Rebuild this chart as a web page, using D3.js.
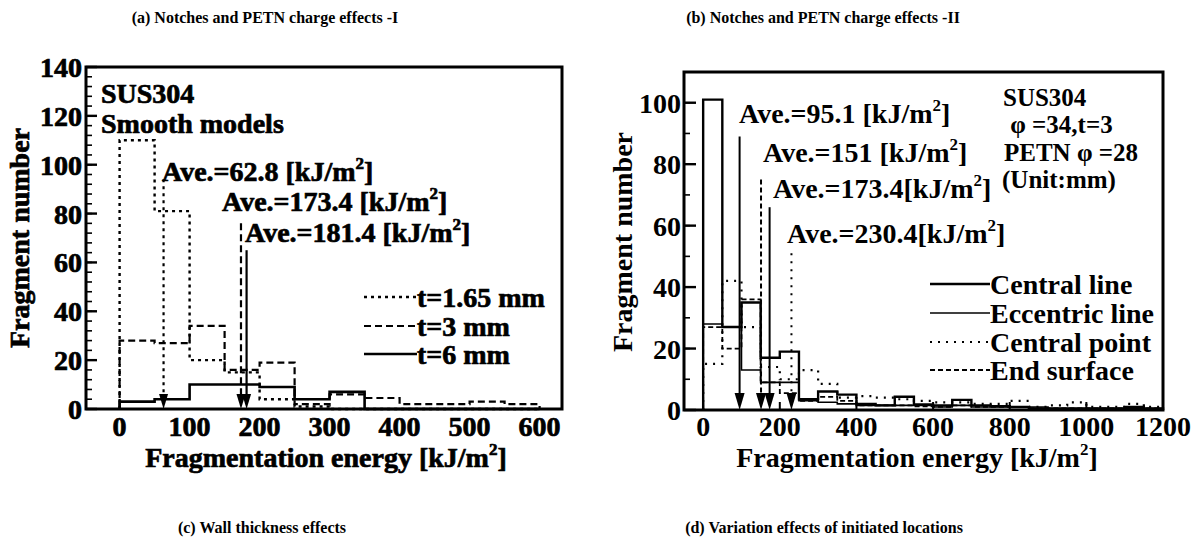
<!DOCTYPE html>
<html><head><meta charset="utf-8">
<script src="https://cdn.jsdelivr.net/npm/d3@7"></script>
<style>
body{margin:0;background:#fff;}
svg{display:block;}
text{font-family:"Liberation Serif","DejaVu Serif","Noto Serif","Times New Roman",Times,serif;font-weight:bold;fill:#000;}
.heavy text{stroke:#000;stroke-width:0.7px;}
</style>
</head><body>
<svg id="c" width="1197" height="545"></svg>
<script>
// ---------- DATA ----------
// Left panel (wall thickness effects)
const leftBinEdges = [0, 50, 100, 150, 200, 250, 300, 350, 400, 450, 500, 550, 600];
const leftNames = ["t=1.65 mm", "t=3 mm", "t=6 mm"];
const leftT165 = [110, 81, 20, 15, 4, 1, 0, 0, 0, 0, 0, 0];
const leftT3   = [28, 27, 34, 16, 19, 2, 6, 4.5, 2, 2, 3, 2];
const leftT6   = [3, 4, 10, 10, 9, 4, 7, 0, 0, 0, 0, 0];
const leftAve  = [62.8, 173.4, 181.4];
const leftAveTop = [94, 76, 65];
const leftAveLabels = ["Ave.=62.8 [kJ/m", "Ave.=173.4 [kJ/m", "Ave.=181.4 [kJ/m"];
const leftYTicks = [0, 20, 40, 60, 80, 100, 120, 140];
const leftXTicks = [0, 100, 200, 300, 400, 500, 600];

// Right panel (initiated locations)
const rightBinEdges = [0, 50, 100, 150, 200, 250, 300, 350, 400, 450, 500, 550, 600, 650, 700, 750, 800, 850, 900, 950, 1000, 1050, 1100, 1150, 1200];
const rightNames = ["Central line", "Eccentric line", "Central point", "End surface"];
const rightCentralLine   = [101, 27, 35, 17, 19, 3.5, 6, 5, 2, 1.5, 4.3, 1.8, 1.5, 3.3, 1.5, 1.2, 1, 0.5, 0.5, 0.5, 0.5, 0.5, 1, 0.5];
const rightEccentricLine = [28, 27, 13, 9, 9, 3, 2.5, 2, 1.5, 1.5, 1.5, 1.5, 1, 1.5, 1, 1, 1, 1, 0.5, 0.5, 0.5, 0.5, 0.5, 0.5];
const rightCentralPoint  = [15, 42, 27, 14, 10, 13, 8.5, 4, 4.5, 4, 3.5, 3, 2.5, 2.5, 2, 2, 3, 1, 1.5, 2.5, 1, 1, 2, 1];
const rightEndSurface    = [27, 20, 36, 9, 5.5, 3, 4.3, 3, 1.5, 1.5, 1.5, 1.2, 1, 1.5, 1, 1, 1, 0.5, 0.5, 0.5, 0.5, 0.5, 1, 0.5];
const rightAve  = [95.1, 151, 173.4, 230.4];
const rightAveTop = [89, 75, 66, 51];
const rightAveLabels = ["Ave.=95.1 [kJ/m", "Ave.=151 [kJ/m", "Ave.=173.4[kJ/m", "Ave.=230.4[kJ/m"];
const rightInfo = ["SUS304", " \u03C6 =34,t=3", "PETN \u03C6 =28", "(Unit:mm)"];
const rightYTicks = [0, 20, 40, 60, 80, 100];
const rightXTicks = [0, 200, 400, 600, 800, 1000, 1200];

const captions = ["(a) Notches and PETN charge effects -I", "(b) Notches and PETN charge effects -II",
                  "(c) Wall thickness effects", "(d) Variation effects of initiated locations"];

// ---------- DRAW ----------
const svg = d3.select("#c");
const FS = 28;

function stepPts(edges, vals) {
  const pts = [[edges[0], 0]];
  vals.forEach((v, i) => { pts.push([edges[i], v]); pts.push([edges[i + 1], v]); });
  pts.push([edges[edges.length - 1], 0]);
  return pts;
}

function supLabel(g, x, y, base, anchor) {
  const t = g.append("text").attr("x", x).attr("y", y).attr("font-size", FS).attr("text-anchor", anchor || "start");
  t.append("tspan").text(base);
  t.append("tspan").attr("dy", -12).attr("font-size", 17).text("2");
  t.append("tspan").attr("dy", 12).text("]");
  return t;
}

function arrowHead(g, x, y0, w, h) {
  g.append("path").attr("d", `M${x - w / 2},${y0 - h}L${x + w / 2},${y0 - h}L${x},${y0}Z`).attr("fill", "#000");
}

// ----- Left panel -----
{
  const x = d3.scaleLinear().domain([-48, 632]).range([86, 562]);
  const y = d3.scaleLinear().domain([0, 140]).range([409, 67]);
  const g = svg.append("g").attr("class", "heavy");
  const line = d3.line().x(d => x(d[0])).y(d => y(d[1]));
  const styles = [
    {data: leftT165, dash: "3,4", w: 2.4},
    {data: leftT3, dash: "7,4", w: 2.2},
    {data: leftT6, dash: null, w: 2.6}
  ];
  styles.forEach(s => {
    g.append("path").attr("d", line(stepPts(leftBinEdges, s.data))).attr("fill", "none")
      .attr("stroke", "#000").attr("stroke-width", s.w).attr("stroke-dasharray", s.dash);
  });
  const aveDash = ["3,4", "7,4", null];
  leftAve.forEach((a, i) => {
    g.append("line").attr("x1", x(a)).attr("x2", x(a)).attr("y1", y(leftAveTop[i])).attr("y2", y(0) - 12)
      .attr("stroke", "#000").attr("stroke-width", 2.2).attr("stroke-dasharray", aveDash[i]);
    arrowHead(g, x(a), y(0), 9, 15);
  });
  g.append("rect").attr("x", x.range()[0]).attr("y", y.range()[1]).attr("width", x.range()[1] - x.range()[0])
    .attr("height", y.range()[0] - y.range()[1]).attr("fill", "none").attr("stroke", "#000").attr("stroke-width", 3);
  const minor = d3.range(0, 141, 4);
  minor.forEach(v => g.append("line").attr("x1", 86).attr("x2", 92).attr("y1", y(v)).attr("y2", y(v)).attr("stroke", "#000").attr("stroke-width", 1.6));
  leftYTicks.forEach(v => {
    g.append("line").attr("x1", 86).attr("x2", 97).attr("y1", y(v)).attr("y2", y(v)).attr("stroke", "#000").attr("stroke-width", 2.4);
    g.append("text").attr("x", 82).attr("y", y(v) + 10).attr("text-anchor", "end").attr("font-size", FS).text(v);
  });
  leftXTicks.forEach(v => {
    g.append("text").attr("x", x(v)).attr("y", 436).attr("text-anchor", "middle").attr("font-size", FS).text(v);
  });
  g.append("text").attr("transform", "translate(29,238) rotate(-90)").attr("text-anchor", "middle").attr("font-size", FS).text("Fragment number");
  supLabel(g, 326, 467, "Fragmentation energy [kJ/m", "middle");
  g.append("text").attr("x", 101).attr("y", 103).attr("font-size", FS).text("SUS304");
  g.append("text").attr("x", 101).attr("y", 133).attr("font-size", FS).text("Smooth models");
  const aveXY = [[162, 181], [222, 211], [245, 242]];
  leftAveLabels.forEach((l, i) => supLabel(g, aveXY[i][0], aveXY[i][1], l));
  const legY = [297, 326, 354];
  styles.forEach((s, i) => {
    g.append("line").attr("x1", 364).attr("x2", 417).attr("y1", legY[i]).attr("y2", legY[i]).attr("stroke", "#000")
      .attr("stroke-width", s.w).attr("stroke-dasharray", s.dash);
    g.append("text").attr("x", 417).attr("y", legY[i] + 10).attr("font-size", FS).text(leftNames[i]);
  });
}

// ----- Right panel -----
{
  const x = d3.scaleLinear().domain([-50, 1200]).range([684, 1163]);
  const y = d3.scaleLinear().domain([0, 110]).range([410, 72]);
  const g = svg.append("g");
  const line = d3.line().x(d => x(d[0])).y(d => y(d[1]));
  const styles = [
    {data: rightCentralLine, dash: null, w: 2.4},
    {data: rightEccentricLine, dash: null, w: 1.6},
    {data: rightCentralPoint, dash: "2,6", w: 2.2},
    {data: rightEndSurface, dash: "5,3", w: 1.8}
  ];
  styles.forEach(s => {
    g.append("path").attr("d", line(stepPts(rightBinEdges, s.data))).attr("fill", "none")
      .attr("stroke", "#000").attr("stroke-width", s.w).attr("stroke-dasharray", s.dash);
  });
  const aveDash = [null, "5,3", null, "2,6"];
  rightAve.forEach((a, i) => {
    g.append("line").attr("x1", x(a)).attr("x2", x(a)).attr("y1", y(rightAveTop[i])).attr("y2", y(0) - 14)
      .attr("stroke", "#000").attr("stroke-width", 2).attr("stroke-dasharray", aveDash[i]);
    arrowHead(g, x(a), y(0), 10, 17);
  });
  g.append("rect").attr("x", x.range()[0]).attr("y", y.range()[1]).attr("width", x.range()[1] - x.range()[0])
    .attr("height", y.range()[0] - y.range()[1]).attr("fill", "none").attr("stroke", "#000").attr("stroke-width", 3);
  d3.range(0, 111, 10).forEach(v => g.append("line").attr("x1", 684).attr("x2", 690).attr("y1", y(v)).attr("y2", y(v)).attr("stroke", "#000").attr("stroke-width", 1.6));
  rightYTicks.forEach(v => {
    g.append("line").attr("x1", 684).attr("x2", 696).attr("y1", y(v)).attr("y2", y(v)).attr("stroke", "#000").attr("stroke-width", 2.4);
    g.append("text").attr("x", 681).attr("y", y(v) + 10).attr("text-anchor", "end").attr("font-size", FS).text(v);
  });
  rightXTicks.forEach(v => {
    g.append("line").attr("x1", x(v)).attr("x2", x(v)).attr("y1", y(0)).attr("y2", y(0) - 8).attr("stroke", "#000").attr("stroke-width", 2);
    g.append("text").attr("x", x(v)).attr("y", 436).attr("text-anchor", "middle").attr("font-size", FS).text(v);
  });
  g.append("text").attr("transform", "translate(632,242) rotate(-90)").attr("text-anchor", "middle").attr("font-size", FS).text("Fragment number");
  supLabel(g, 917, 467, "Fragmentation energy [kJ/m", "middle");
  const aveXY = [[739, 123], [763, 162], [773, 198], [787, 243]];
  rightAveLabels.forEach((l, i) => supLabel(g, aveXY[i][0], aveXY[i][1], l));
  const infoXY = [[1003, 106], [1004, 133], [1004, 161], [1002, 188]];
  rightInfo.forEach((t, i) => g.append("text").attr("x", infoXY[i][0]).attr("y", infoXY[i][1])
    .attr("font-size", 25).attr("xml:space", "preserve").style("white-space", "pre").text(t));
  const legY = [284, 313, 342, 370];
  styles.forEach((s, i) => {
    g.append("line").attr("x1", 930).attr("x2", 990).attr("y1", legY[i]).attr("y2", legY[i]).attr("stroke", "#000")
      .attr("stroke-width", s.w).attr("stroke-dasharray", s.dash);
    g.append("text").attr("x", 990).attr("y", legY[i] + 10).attr("font-size", FS).text(rightNames[i]);
  });
}

const capPos = [[265, 23], [823, 23], [262, 533], [824, 533]];
captions.forEach((c, i) => svg.append("text").attr("x", capPos[i][0]).attr("y", capPos[i][1])
  .attr("text-anchor", "middle").attr("font-size", 16).text(c));
</script>
</body></html>
